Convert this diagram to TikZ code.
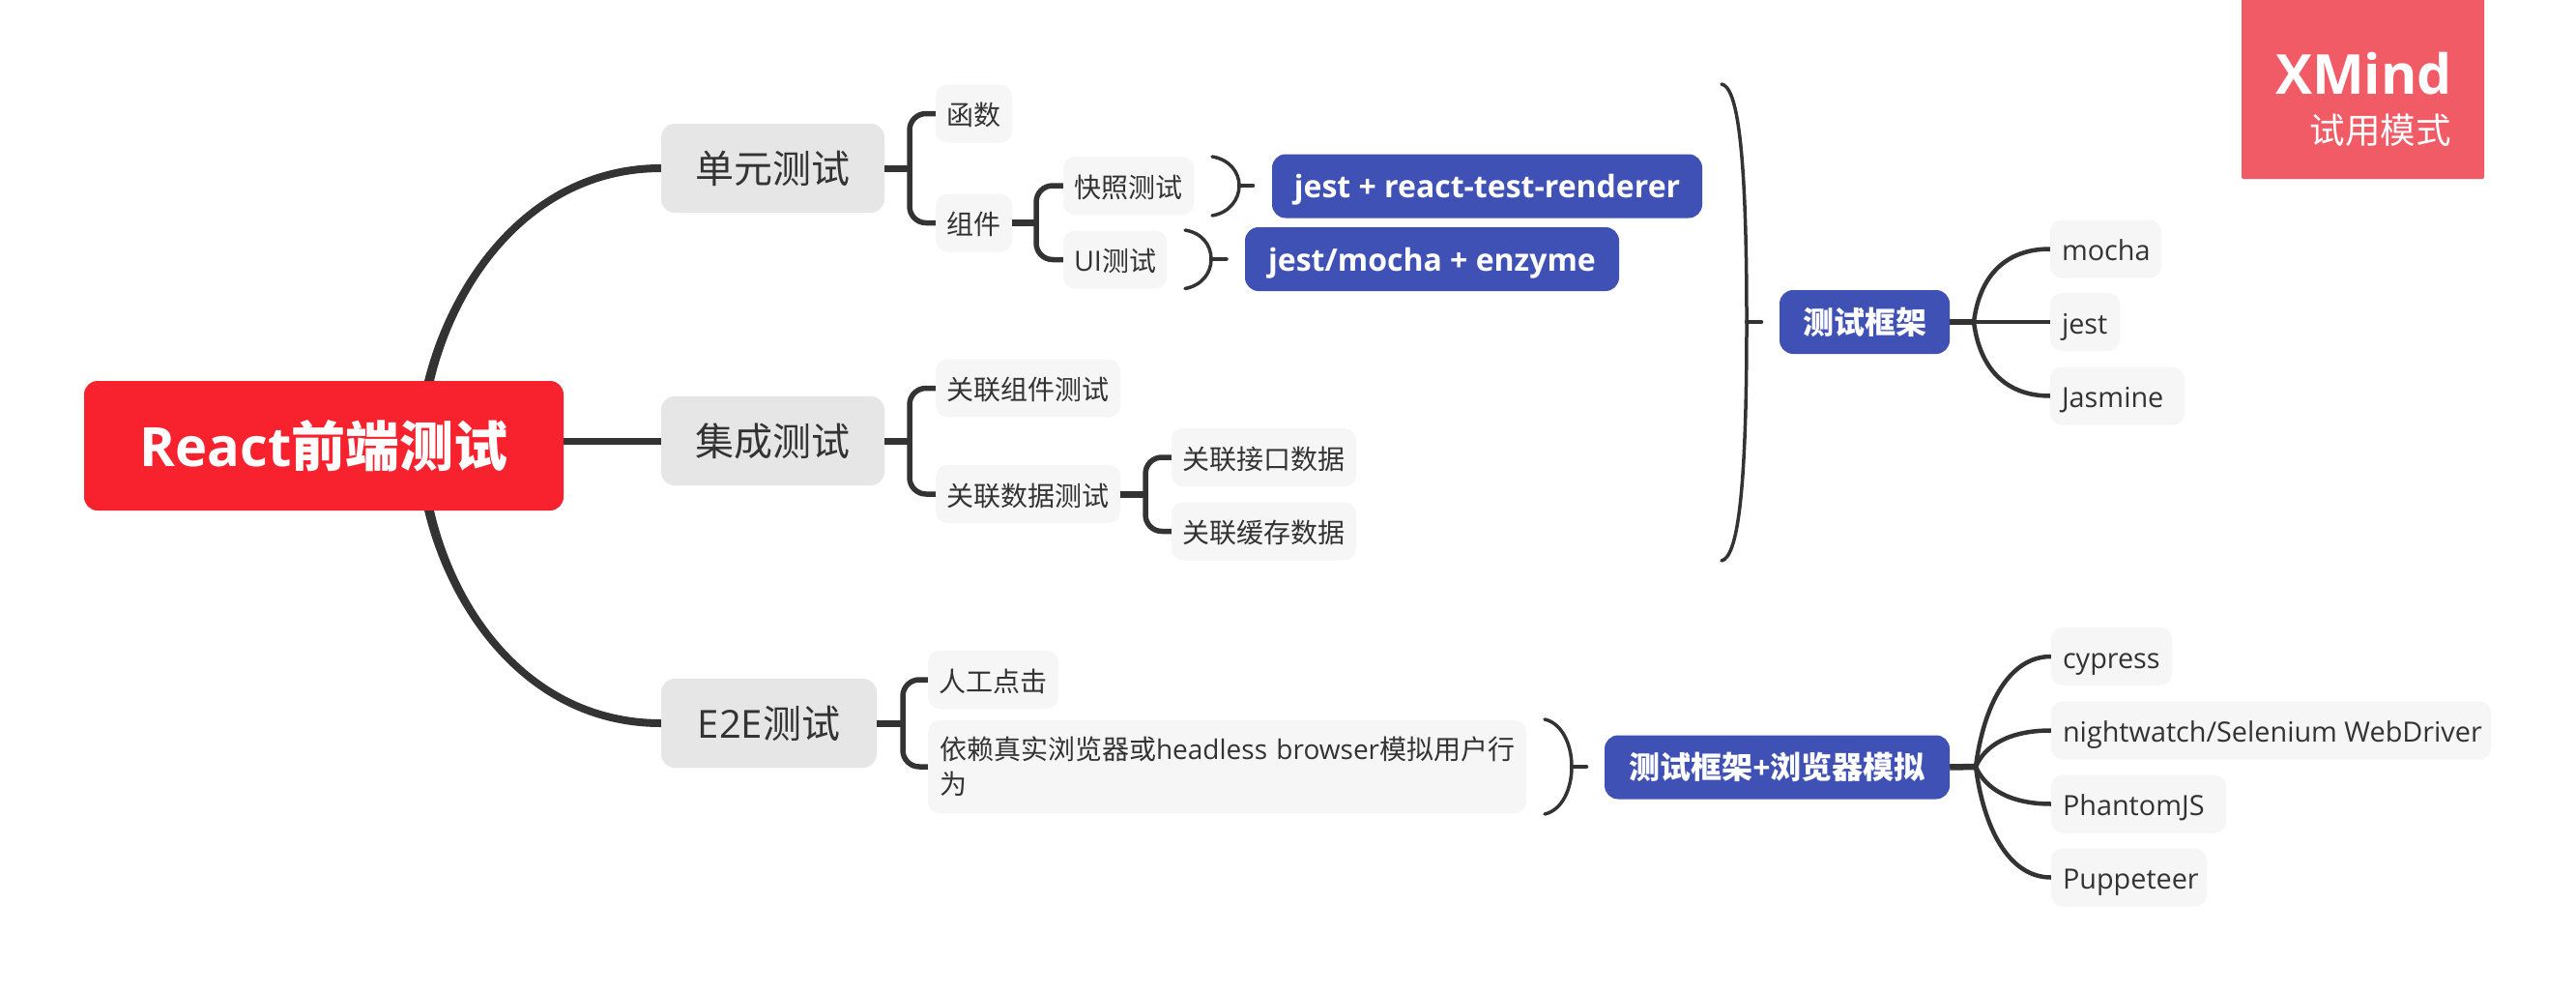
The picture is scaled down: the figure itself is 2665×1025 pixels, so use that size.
\documentclass[tikz,border=0pt]{standalone}
\usepackage{fontspec}
\usetikzlibrary{calc}
\setmainfont{Open Sans}
\newfontfamily\zhfont{Noto Sans CJK SC}
\newcommand{\zh}[1]{{\zhfont #1}}
\definecolor{ink}{HTML}{333333}
\definecolor{rootred}{HTML}{F8222F}
\definecolor{midgrey}{HTML}{E6E6E6}
\definecolor{leafgrey}{HTML}{F6F6F6}
\definecolor{blueb}{HTML}{4051B5}
\definecolor{markred}{HTML}{F15B66}
\tikzset{
  rootbox/.style={fill=rootred,text=white,rounded corners=14,inner sep=0,font=\fontsize{56}{60}\selectfont\bfseries,text height=50,text depth=8},
  midbox/.style={fill=midgrey,text=ink,rounded corners=14,inner sep=0,minimum height=92,font=\fontsize{40}{44}\selectfont,text height=35,text depth=4},
  leafbase/.style={fill=leafgrey,text=ink,rounded corners=12,inner sep=0,minimum height=60,font=\fontsize{28.8}{36}\selectfont},
  leaf/.style={leafbase,text height=26,text depth=2},
  bluebox/.style={fill=blueb,text=white,rounded corners=14,inner sep=0,minimum height=66,font=\fontsize{32}{36}\selectfont\bfseries,text height=28,text depth=4},
  stem/.style={draw=ink,line width=7},
  limb/.style={draw=ink,line width=5.5,rounded corners=17},
  fanline/.style={draw=ink,line width=4.5},
  fanstem/.style={draw=ink,line width=6.5},
  brace/.style={draw=ink,line width=3.5,line cap=round},
  taper/.style={fill=ink}
}
\newcommand{\zt}[1]{{\zhfont\fontsize{28}{36}\selectfont #1}}
\begin{document}
\begin{tikzpicture}[x=1pt,y=-1pt]
\useasboundingbox[fill=white] (0,0) rectangle (2665,1025);

% main nodes
\node[rootbox,minimum width=496,minimum height=134] (root) at (335,461) {React\zh{前端测试}};
\node[midbox,minimum width=231] (unit) at (799.5,174) {\zh{单元测试}};
\node[midbox,minimum width=231] (integ) at (799.5,456) {\zh{集成测试}};
\node[midbox,minimum width=223] (etoe) at (795.5,748) {E2E\zh{测试}};

% unit branch
\node[leaf,minimum width=79] (func) at (1007.5,117.5) {\zt{函数}};
\node[leaf,minimum width=79] (comp) at (1007.5,230.5) {\zt{组件}};
\node[leaf,minimum width=135] (snap) at (1167.5,192) {\zt{快照测试}};
\node[leaf,minimum width=107] (uit) at (1153.5,268.5) {UI\zt{测试}};
\node[bluebox,minimum width=445] (jrt) at (1538.5,192.5) {jest + react-test-renderer};
\node[bluebox,minimum width=387] (jme) at (1481.5,268) {jest/mocha + enzyme};

% integration branch
\node[leaf,minimum width=191] (relc) at (1063.5,401.5) {\zt{关联组件测试}};
\node[leaf,minimum width=191] (reld) at (1063.5,511) {\zt{关联数据测试}};
\node[leaf,minimum width=191] (reli) at (1307.5,473) {\zt{关联接口数据}};
\node[leaf,minimum width=191] (relk) at (1307.5,549.5) {\zt{关联缓存数据}};

% e2e branch
\node[leaf,minimum width=135] (click) at (1027.5,703) {\zt{人工点击}};
\node[leafbase,font=\fontsize{28}{36}\selectfont,minimum width=619,minimum height=96,inner xsep=12,text width=595,align=left] (real) at (1269.5,793) {\mbox{\zt{依赖真实浏览器或}headless browser\zt{模拟用户行}}\\\zt{为}};

% frameworks
\node[bluebox,minimum width=176] (fw) at (1929,333) {\zh{测试框架}};
\node[leaf,minimum width=115] (mocha) at (2178.5,257.5) {\makebox[91pt][l]{mocha}};
\node[leaf,minimum width=72] (jest) at (2157,333) {\makebox[48pt][l]{jest}};
\node[leaf,minimum width=139] (jasm) at (2190.5,409.5) {\makebox[115pt][l]{Jasmine}};

\node[bluebox,minimum width=357] (fwb) at (1838.5,793.5) {\zh{测试框架}+\zh{浏览器模拟}};
\node[leaf,minimum width=125] (cyp) at (2184.5,679) {\makebox[101pt][l]{cypress}};
\node[leaf,minimum width=455] (night) at (2349.5,755.5) {\makebox[431pt][l]{nightwatch/Selenium WebDriver}};
\node[leaf,minimum width=181] (phan) at (2212.5,831.5) {\makebox[157pt][l]{PhantomJS}};
\node[leaf,minimum width=161] (pupp) at (2202.5,907.5) {\makebox[137pt][l]{Puppeteer}};

% watermark
\fill[markred,rounded corners=2] (2319,-4) rectangle (2570,185);
\node[anchor=east,text=white,inner sep=0,font=\fontsize{57}{60}\selectfont\bfseries] (xm) at (2537,76) {XMind};
\node[anchor=east,text=white,inner sep=0,font=\fontsize{36.5}{40}\selectfont] (tm) at (2536,135) {\zh{试用模式}};

% root connectors (tapered)
\coordinate (rt1) at (439,394); \coordinate (rt2) at (449,394);
\coordinate (rb1) at (439,528); \coordinate (rb2) at (449,528);
\fill[taper] (rt1) .. controls (466,285) and (550,170) .. ($(unit.west)+(0,-4)$) -- ($(unit.west)+(0,4)$)
  .. controls (556,178) and (475,285) .. (rt2) -- cycle;
\fill[taper] (rb1) .. controls (466,640) and (550,752) .. ($(etoe.west)+(0,4)$) -- ($(etoe.west)+(0,-4)$)
  .. controls (556,744) and (475,640) .. (rb2) -- cycle;
\draw[stem] (root.east |- integ.west) -- (integ.west);

% limbs
\coordinate (uj) at (941,174);
\draw[stem] (unit.east) -- (uj);
\draw[limb] (func.west) -| (uj) |- (comp.west);
\coordinate (cj) at (1072,230.5);
\draw[stem] (comp.east) -- (cj);
\draw[limb] (snap.west) -| (cj) |- (uit.west);
\coordinate (ij) at (941,456);
\draw[stem] (integ.east) -- (ij);
\draw[limb] (relc.west) -| (ij) |- (reld.west);
\coordinate (dj) at (1185,511);
\draw[stem] (reld.east) -- (dj);
\draw[limb] (reli.west) -| (dj) |- (relk.west);
\coordinate (ej) at (934,748);
\draw[stem] (etoe.east) -- (ej);
\draw[limb] (click.west) -| (ej) |- (real.west);

% summary brackets
\coordinate (s1a) at (1254,162); \coordinate (s1t) at (1282,192); \coordinate (s1b) at (1254,223); \coordinate (s1e) at (1296,192);
\draw[brace] (s1a) .. controls (1272,165) and (1282,178) .. (s1t) .. controls (1282,206) and (1272,220) .. (s1b);
\draw[brace,line width=4.5] (s1t) -- (s1e);
\coordinate (s2a) at (1226,238); \coordinate (s2t) at (1253,268); \coordinate (s2b) at (1226,298.5); \coordinate (s2e) at (1268.5,268);
\draw[brace] (s2a) .. controls (1244,241) and (1253,254) .. (s2t) .. controls (1253,282) and (1244,295) .. (s2b);
\draw[brace,line width=4.5] (s2t) -- (s2e);
\coordinate (s3a) at (1598,744); \coordinate (s3t) at (1626,793); \coordinate (s3b) at (1598,842); \coordinate (s3e) at (1641,793);
\draw[brace] (s3a) .. controls (1616,748) and (1626,770) .. (s3t) .. controls (1626,816) and (1616,838) .. (s3b);
\draw[brace,line width=4.5] (s3t) -- (s3e);
\coordinate (s4a) at (1781,87); \coordinate (s4t) at (1807,333); \coordinate (s4b) at (1781,580); \coordinate (s4e) at (1822,333);
\draw[brace] (s4a) .. controls (1797,90) and (1807,150) .. (s4t) .. controls (1807,516) and (1797,576) .. (s4b);
\draw[brace,line width=4.5] (s4t) -- (s4e);

% fans
\coordinate (fj) at (2042,333);
\draw[fanstem] (fw.east) -- (fj);
\draw[fanline] (fj) .. controls (2048,285) and (2075,257.5) .. (mocha.west);
\draw[fanline] (fj) -- (jest.west);
\draw[fanline] (fj) .. controls (2048,381) and (2075,409.5) .. (jasm.west);
\coordinate (gj) at (2044,793);
\draw[fanstem] (fwb.east) -- (gj);
\draw[fanline] (gj) .. controls (2052,730) and (2078,679) .. (cyp.west);
\draw[fanline] (gj) .. controls (2054,770) and (2080,755.5) .. (night.west);
\draw[fanline] (gj) .. controls (2054,816) and (2080,831.5) .. (phan.west);
\draw[fanline] (gj) .. controls (2052,856) and (2078,907.5) .. (pupp.west);
\end{tikzpicture}
\end{document}
